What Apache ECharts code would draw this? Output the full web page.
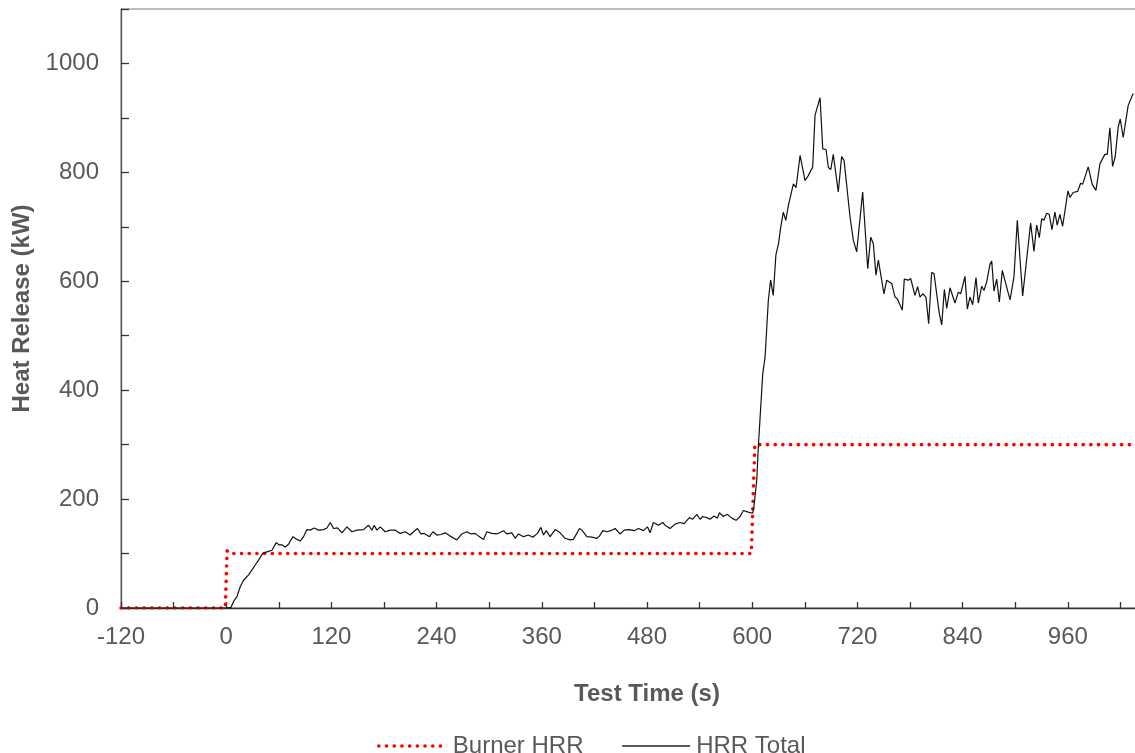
<!DOCTYPE html>
<html>
<head>
<meta charset="utf-8">
<script src="https://cdn.jsdelivr.net/npm/echarts@6/dist/echarts.min.js"></script>
<style>
html,body{margin:0;padding:0;background:#fff;}
#c{width:1135px;height:753px;}
</style>
</head>
<body>
<div id="c"></div>
<script>
// Burner HRR (step input)
const burnerTime = [-120, -1, 1, 4, 599, 603, 1080];
const burnerHRR  = [0, 0, 105, 100, 100, 300, 300];

// Measured total HRR
const hrrTime = [
  -120,-100,-80,-60,-40,-20,-5,0,
  5.4,8.4,12.3,16,19.8,25.5,29.4,33.1,36.9,41.9,
  46.5,52.2,57.1,60.2,63.6,67.3,71.1,76.1,80.7,84.4,
  88.2,92.1,95.8,100.4,105.3,111,114.9,118.7,122.4,127,
  132,137.7,143.4,149.1,156.6,162.3,166.2,168.8,171.9,175.7,
  181.4,187.1,192.8,198.5,204.2,209.9,213.7,218.2,222.1,225.8,
  231.9,235.8,240.3,244.9,249.8,255.5,263.1,268.8,274.5,279.1,
  284,287.8,293.5,297.3,303,308.7,316.3,320.1,325.8,329.6,
  333.4,339.1,344.8,349.8,355,358.9,361.9,365,369.5,375.2,
  380.9,386.6,392.3,396.1,403,405.7,411.4,417.1,422.8,425.7,
  429.6,434.2,438.7,443.6,449.3,453.9,459.9,465.3,470.2,475.9,
  480.5,483.5,487.3,493,498,500.6,506.3,512,517.7,522.3,
  528.4,532.2,536.8,540.5,543.6,548.2,551.9,556.5,560.3,562.6,
  567.1,571.7,576.7,581.6,586.2,589.9,593.8,597.6,600.6,602,
  605.2,607,612,614.7,618.4,621,624,627,630,632.6,
  635.5,638.3,641.2,644,647,650,654.6,660.3,664,669,
  671.7,677.4,680.5,684.2,686.9,689.6,692.5,698.2,702,704.8,
  711.6,715.4,719.2,726,731.8,735.2,738.2,741.2,743.9,750.3,
  753.4,759.1,762.9,765.5,771.2,773.5,778,780.8,785.7,788.7,
  791.4,794.5,798.2,801.3,804.7,807.4,813.4,816.2,819.2,821.9,
  825.6,831.3,835.1,837.8,842.7,845.4,848.4,851.5,855.3,857.9,
  861.8,864.4,867.5,871.2,873.2,875.8,878.9,881.9,885.3,894.1,
  898.6,902.4,908.5,917.6,921.4,924.5,927.5,930.2,932.8,935.9,
  938.8,941.9,945.3,947.9,951,954.1,960.2,962.4,966.2,971.2,
  974.6,976.9,983.3,987.9,992.1,996.7,1002.3,1005,1008,1011.1,
  1014,1017.5,1019.8,1023.2,1028.9,1034.6
];
const hrrTotal = [
  0,0,0,0,0,0,0,0,
  1,12,21,39,51,61,70,79,88,101,
  103,106,120,116,116,112,117,131,126,123,
  131,144,143,147,143,144,147,157,146,147,
  138,149,140,143,144,152,143,152,143,149,
  140,143,143,137,140,134,140,146,136,137,
  131,140,134,135,138,132,125,136,140,136,
  137,132,126,140,137,136,142,136,138,128,
  136,131,134,130,137,148,134,142,131,144,
  138,128,125,126,146,143,131,130,128,132,
  142,140,142,146,136,143,144,142,146,142,
  149,138,157,152,157,152,146,154,157,155,
  166,163,172,163,168,166,163,169,165,175,
  168,172,165,161,168,179,177,175,174,186,
  235,296,430,461,565,602,574,648,669,700,
  727,712,739,758,779,772,831,785,794,810,
  905,937,843,842,809,805,833,764,829,822,
  718,675,654,764,623,681,669,611,639,577,
  602,596,571,568,547,604,602,605,574,590,
  571,577,571,522,616,614,541,520,585,550,
  588,560,580,577,609,549,571,557,607,560,
  591,583,599,631,637,582,604,562,620,566,
  608,712,573,707,655,703,680,715,712,725,
  723,695,727,703,723,701,766,754,763,765,
  780,778,810,778,767,816,833,833,882,811,
  828,883,898,864,923,945
];

const seriesNames = ['Burner HRR', 'HRR Total'];
const xTitle = 'Test Time (s)';
const yTitle = 'Heat Release (kW)';

const FONT = '"Liberation Sans", Arial, sans-serif';
const TXT = '#595959';
const RED_DOT = {color: '#FF0000', width: 3.6, type: [0.1, 7.6], cap: 'round'};

const chart = echarts.init(document.getElementById('c'), null, {renderer: 'canvas'});
chart.setOption({
  animation: false,
  backgroundColor: '#ffffff',
  textStyle: {fontFamily: FONT},
  grid: {
    left: 121, right: -38, top: 9, bottom: 145,
    show: true, borderColor: '#7a7a7a', borderWidth: 1,
    containLabel: false, outerBoundsMode: 'none'
  },
  legend: {
    data: [
      {name: seriesNames[0], lineStyle: RED_DOT},
      {name: seriesNames[1], lineStyle: {color: '#222222', width: 1.3}}
    ],
    left: 372, top: 729,
    itemWidth: 68, itemHeight: 14, itemGap: 38,
    itemStyle: {color: 'rgba(0,0,0,0)', borderColor: 'rgba(0,0,0,0)', borderWidth: 0, opacity: 0},
    textStyle: {fontFamily: FONT, fontSize: 24, color: TXT, padding: [0,0,0,1]}
  },
  xAxis: {
    type: 'value', min: -120, max: 1080, interval: 60,
    name: xTitle, nameLocation: 'middle', nameGap: 74,
    nameTextStyle: {fontFamily: FONT, fontSize: 24, fontWeight: 'bold', color: TXT},
    axisLine: {show: true, onZero: false, lineStyle: {color: '#333333', width: 1.3}},
    axisTick: {show: true, inside: true, length: 6, lineStyle: {color: '#333333', width: 1.3}},
    splitLine: {show: false},
    axisLabel: {
      fontFamily: FONT, fontSize: 24, color: TXT, margin: 17,
      formatter: v => (v % 120 === 0 ? String(v) : '')
    }
  },
  yAxis: {
    type: 'value', min: 0, max: 1100, interval: 100,
    name: yTitle, nameLocation: 'middle', nameGap: 84, nameRotate: 90,
    nameTextStyle: {fontFamily: FONT, fontSize: 24, fontWeight: 'bold', color: TXT},
    axisLine: {show: true, onZero: false, lineStyle: {color: '#555555', width: 1.3}},
    axisTick: {show: true, inside: true, length: 8, lineStyle: {color: '#333333', width: 1.3}},
    splitLine: {show: false},
    axisLabel: {
      fontFamily: FONT, fontSize: 24, color: TXT, margin: 22,
      formatter: v => (v % 200 === 0 && v <= 1000 ? String(v) : '')
    }
  },
  series: [
    {
      name: seriesNames[0], type: 'line', symbol: 'none', showSymbol: false,
      data: burnerTime.map((t, i) => [t, burnerHRR[i]]),
      lineStyle: RED_DOT,
      itemStyle: {color: '#FF0000'},
      z: 2
    },
    {
      name: seriesNames[1], type: 'line', symbol: 'none', showSymbol: false,
      data: hrrTime.map((t, i) => [t, hrrTotal[i]]),
      lineStyle: {color: '#111111', width: 1.2},
      itemStyle: {color: '#111111'},
      z: 3
    }
  ]
});
</script>
</body>
</html>
